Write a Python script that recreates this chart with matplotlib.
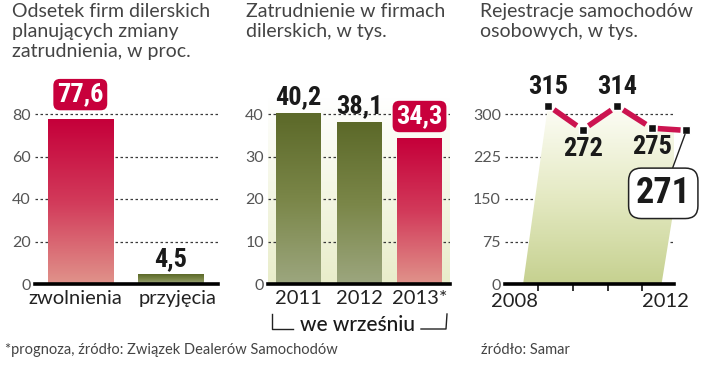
import numpy as np
import matplotlib
matplotlib.use("Agg")
import matplotlib.pyplot as plt
from matplotlib.colors import LinearSegmentedColormap
from matplotlib.patches import Polygon
from matplotlib.transforms import ScaledTranslation

# panel 1: share of dealer firms planning staff changes, %
plan_labels = ["zwolnienia", "przyjęcia"]
plan_values = [77.6, 4.5]
plan_text = ["77,6", "4,5"]

# panel 2: employment in dealer firms, thousands (September)
emp_years = ["2011", "2012", "2013*"]
emp_values = [40.2, 38.1, 34.3]
emp_text = ["40,2", "38,1", "34,3"]

# panel 3: passenger car registrations, thousands
reg_years = [2008, 2009, 2010, 2011, 2012]
reg_values = [315, 272, 314, 275, 271]
reg_text = ["315", "272", "314", "275", "271"]

W, H = 720, 366
RED = "#c8003c"
GRID = "#3a3a3a"
TICKC = "#555555"
LIGHT = ["Lato", "DejaVu Sans"]
BOLD = ["Roboto Condensed", "Barlow Condensed", "Liberation Sans Narrow", "DejaVu Sans"]

plt.rcParams["font.family"] = LIGHT

red_cmap = LinearSegmentedColormap.from_list("r", ["#e0928a", "#d23a5a", "#c5003a"])
green_cmap = LinearSegmentedColormap.from_list("g", ["#9ca67e", "#7a8648", "#5c6929"])
bg_cmap = LinearSegmentedColormap.from_list("bg", ["#e9edca", "#ffffff"])
area_cmap = LinearSegmentedColormap.from_list("a", ["#c6d190", "#e5eac4", "#fdfdf6"])


def fx(x):
    return x / W


def fy(y):
    return 1 - y / H


def style_axes(ax, ymax, step):
    ax.set_ylim(0, ymax)
    for s in ["left", "right", "top"]:
        ax.spines[s].set_visible(False)
    ax.spines["bottom"].set_linewidth(2.6)
    ax.spines["bottom"].set_zorder(6)
    ax.set_yticks(np.arange(0, ymax, step))
    ax.yaxis.grid(True, linestyle=(0, (2, 2)), color=GRID, linewidth=0.9)
    ax.set_axisbelow(True)
    ax.tick_params(axis="y", length=0, pad=3, labelsize=11.5, labelcolor=TICKC)
    ax.patch.set_alpha(0)


def gradient_bars(ax, bars, cmaps):
    for b, cm in zip(bars, cmaps):
        x0, w, h = b.get_x(), b.get_width(), b.get_height()
        grad = np.linspace(0, 1, 100).reshape(-1, 1)
        ax.imshow(grad, extent=[x0, x0 + w, 0, h], origin="lower", cmap=cm,
                  aspect="auto", zorder=3)
        b.set_visible(False)


fig = plt.figure(figsize=(W / 100, H / 100), dpi=100)

# ---------- panel 1 ----------
ax1 = fig.add_axes([fx(35), fy(284), 183 / W, 204 / H])
style_axes(ax1, 96, 20)
x1 = np.arange(len(plan_values))
bars1 = ax1.bar(x1, plan_values, width=0.72)
gradient_bars(ax1, bars1, [red_cmap, green_cmap])
ax1.set_xlim(-0.5, 1.52)
ax1.set_xticks(x1)
ax1.set_xticklabels(plan_labels, fontsize=14.5, color="#222222")
ax1.tick_params(axis="x", length=0, pad=4)
# spread the two category labels apart a little, as in the original
for lab, dx in zip(ax1.get_xticklabels(), [-0.05, 0.07]):
    lab.set_transform(lab.get_transform() + ScaledTranslation(dx, 0, fig.dpi_scale_trans))
ax1.annotate(plan_text[0], (x1[0], plan_values[0]), xytext=(0, 9), textcoords="offset points",
             ha="center", va="bottom", fontsize=19, fontweight="bold", family=BOLD,
             color="white", zorder=7,
             bbox=dict(boxstyle="round,pad=0.14,rounding_size=0.25", fc=RED, ec="none"))
ax1.annotate(plan_text[1], (x1[1], plan_values[1]), xytext=(0, 2), textcoords="offset points",
             ha="center", va="bottom", fontsize=19, fontweight="bold", family=BOLD,
             color="#1a1a1a", zorder=7)

# ---------- panel 2 ----------
ax2 = fig.add_axes([fx(268), fy(284), 182 / W, 204 / H])
style_axes(ax2, 48, 10)
x2 = np.arange(len(emp_values))
ax2.set_xlim(-0.504, 2.504)
bg = np.linspace(0, 1, 100).reshape(-1, 1)
ax2.imshow(bg, extent=[-0.504, 2.504, 0, 44], origin="lower", cmap=bg_cmap,
           aspect="auto", zorder=0)
ax2.set_ylim(0, 48)
bars2 = ax2.bar(x2, emp_values, width=0.74)
gradient_bars(ax2, bars2, [green_cmap, green_cmap, red_cmap])
ax2.set_xticks(x2)
ax2.set_xticklabels(emp_years, fontsize=14.5, color="#222222")
ax2.tick_params(axis="x", length=0, pad=4)
for i, (v, t) in enumerate(zip(emp_values, emp_text)):
    if i == len(emp_values) - 1:
        ax2.annotate(t, (i, v), xytext=(0, 7), textcoords="offset points", ha="center",
                     va="bottom", fontsize=19, fontweight="bold", family=BOLD,
                     color="white", zorder=7,
                     bbox=dict(boxstyle="round,pad=0.14,rounding_size=0.25", fc=RED, ec="none"))
    else:
        ax2.annotate(t, (i, v), xytext=(0, 3), textcoords="offset points", ha="center",
                     va="bottom", fontsize=19, fontweight="bold", family=BOLD,
                     color="#1a1a1a", zorder=7)

# bracket "we wrześniu"
fig.add_artist(plt.Line2D([fx(272), fx(272), fx(293)], [fy(314), fy(329), fy(329)],
                          color="#222222", lw=1))
fig.add_artist(plt.Line2D([fx(421), fx(446), fx(447)], [fy(329), fy(329), fy(314)],
                          color="#222222", lw=1))
fig.text(fx(357), fy(325), "we wrześniu", ha="center", va="center", fontsize=15,
         color="#1a1a1a", fontweight="medium")

# ---------- panel 3 ----------
ax3 = fig.add_axes([fx(505), fy(284), 169 / W, 204 / H])
style_axes(ax3, 360, 75)
rx = np.array(reg_years, dtype=float)
ry = np.array(reg_values, dtype=float)

shift = 0.72
verts = list(zip(rx, ry)) + [(rx[-1] - shift, 0), (rx[0] - shift, 0)]
poly = Polygon(verts, closed=True, fc="none", ec="none")
ax3.add_patch(poly)
area = np.linspace(0, 1, 100).reshape(-1, 1)
im = ax3.imshow(area, extent=[rx[0] - shift, rx[-1], 0, ry.max()], origin="lower",
                cmap=area_cmap, aspect="auto", zorder=1)
im.set_clip_path(poly)
ax3.set_xlim(2006.757, 2011.64)
ax3.set_ylim(0, 360)

gap = 0.17
for i in range(len(rx) - 1):
    dx, dy = rx[i + 1] - rx[i], ry[i + 1] - ry[i]
    ax3.plot([rx[i] + gap * dx, rx[i + 1] - gap * dx], [ry[i] + gap * dy, ry[i + 1] - gap * dy],
             color="#cc1450", lw=4, solid_capstyle="butt", zorder=4, clip_on=False)
ax3.plot(rx, ry, ls="none", marker="s", ms=6, mfc="#111111", mec="white", mew=1,
         zorder=5, clip_on=False)

for i in range(len(rx) - 1):
    if i % 2 == 0:
        ax3.annotate(reg_text[i], (rx[i], ry[i]), xytext=(0, 5), textcoords="offset points",
                     ha="center", va="bottom", fontsize=19, fontweight="bold", family=BOLD,
                     color="#1a1a1a", annotation_clip=False)
    else:
        ax3.annotate(reg_text[i], (rx[i], ry[i]), xytext=(0, -5), textcoords="offset points",
                     ha="center", va="top", fontsize=19, fontweight="bold", family=BOLD,
                     color="#1a1a1a", annotation_clip=False)
ax3.annotate(reg_text[-1], (rx[-1], ry[-1]), xytext=(2011.33, 160), textcoords="data",
             ha="center", va="center", fontsize=26, fontweight="bold", family=BOLD,
             color="#1a1a1a", annotation_clip=False, zorder=7,
             bbox=dict(boxstyle="round,pad=0.2,rounding_size=0.35", fc="white", ec="#222222", lw=1.1),
             arrowprops=dict(arrowstyle="-", color="#222222", lw=1, shrinkA=0, shrinkB=3))

tick_pos = [y - 0.28 for y in reg_years[:4]]
ax3.set_xticks(tick_pos)
ax3.set_xticklabels([])
ax3.tick_params(axis="x", direction="out", length=5, width=1.2, color="#111111")
ax3.text(tick_pos[0], -0.085, str(reg_years[0]), transform=ax3.get_xaxis_transform(),
         ha="right", va="center", fontsize=14.5, color="#222222")
ax3.text(tick_pos[-1], -0.085, str(reg_years[-1]), transform=ax3.get_xaxis_transform(),
         ha="left", va="center", fontsize=14.5, color="#222222")

# ---------- titles and sources ----------
title_kw = dict(va="top", ha="left", fontsize=14, color="#444444", linespacing=1.22)
fig.text(fx(12), fy(3), "Odsetek firm dilerskich\nplanujących zmiany\nzatrudnienia, w proc.", **title_kw)
fig.text(fx(246), fy(3), "Zatrudnienie w firmach\ndilerskich, w tys.", **title_kw)
fig.text(fx(480), fy(3), "Rejestracje samochodów\nosobowych, w tys.", **title_kw)

fig.text(fx(5), fy(350), "*prognoza, źródło: Związek Dealerów Samochodów", va="center",
         ha="left", fontsize=10.5, color="#444444")
fig.text(fx(481), fy(350), "źródło: Samar", va="center", ha="left", fontsize=10.5,
         color="#444444")

fig.savefig("out.png", dpi=100)
